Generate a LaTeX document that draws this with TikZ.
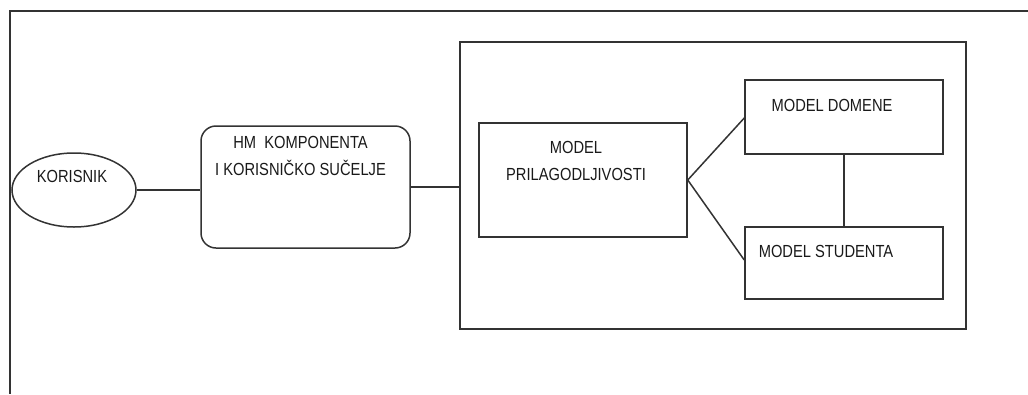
\documentclass[tikz,border=0pt]{standalone}
\usepackage{fontspec}
\newfontfamily\diafont{Liberation Sans}[FakeStretch=0.84]
\usetikzlibrary{shapes.geometric}
\begin{document}
\begin{tikzpicture}[x=1pt,y=-1pt,
  ln/.style={draw=black!80,line width=1.5pt},
  box/.style={ln,rectangle,inner sep=0pt},
  lbl/.style={anchor=north,inner sep=0pt,align=center,text=black!90,
     font=\diafont\fontsize{17.5}{27}\selectfont}]
\useasboundingbox (0,0) rectangle (1028,394);
\draw[ln] (1028,11) -- (10,11) -- (10,394);
\node[box,ellipse,minimum width=124pt,minimum height=74pt,
  label={[lbl,yshift=-18pt,xshift=-2pt]north:KORISNIK}] (kor) at (74,190) {};
\node[box,rounded corners=15pt,minimum width=209pt,minimum height=122pt,
  label={[lbl,yshift=-11pt,xshift=-5pt]north:HM\ \ KOMPONENTA\\I KORISNIČKO SUČELJE}] (hm) at (305.5,187) {};
\node[box,minimum width=506pt,minimum height=287pt] (big) at (713,185.5) {};
\node[box,minimum width=208pt,minimum height=114pt,
  label={[lbl,yshift=-19pt,xshift=-7pt]north:MODEL\\PRILAGODLJIVOSTI}] (pri) at (583,180) {};
\node[box,minimum width=198pt,minimum height=74pt,
  label={[lbl,yshift=-20pt,xshift=-12pt]north:MODEL DOMENE}] (dom) at (844,117) {};
\node[box,minimum width=198pt,minimum height=72pt,
  label={[lbl,yshift=-19pt,xshift=-18pt]north:MODEL STUDENTA}] (stu) at (844,263) {};
\draw[ln] (kor.east) -- (kor.east -| hm.west);
\draw[ln] (hm.east) -- (hm.east -| big.west);
\draw[ln] (pri.east) -- ([yshift=-1pt]dom.west);
\draw[ln] (pri.east) -- ([yshift=3pt]stu.west);
\draw[ln] (dom.south) -- (stu.north);
\end{tikzpicture}
\end{document}
